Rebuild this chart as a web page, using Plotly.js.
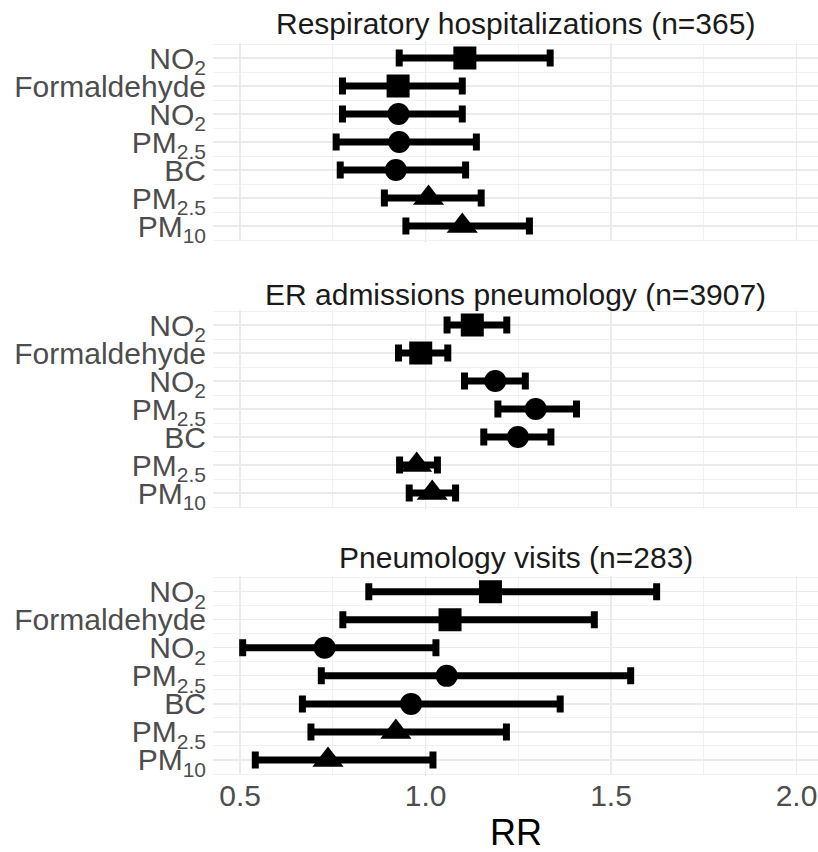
<!DOCTYPE html>
<html>
<head>
<meta charset="utf-8">
<script src="https://cdn.plot.ly/plotly-3.0.1.min.js"></script>
<style>html,body{margin:0;padding:0;background:#fff;}#chart{width:818px;height:852px;}</style>
</head>
<body>
<div id="chart"></div>
<script>
// ---- data ----
const rowLabels = ['NO<sub>2</sub>', 'Formaldehyde', 'NO<sub>2</sub>', 'PM<sub>2.5</sub>', 'BC', 'PM<sub>2.5</sub>', 'PM<sub>10</sub>'];
const rowPositions = [1, 2, 3, 4, 5, 6, 7];
const rowSymbols = ['square', 'square', 'circle', 'circle', 'circle', 'triangle-up', 'triangle-up'];
const panelTitles = ['Respiratory hospitalizations (n=365)', 'ER admissions pneumology (n=3907)', 'Pneumology visits (n=283)'];

const rrResp = [1.106, 0.926, 0.927, 0.929, 0.920, 1.008, 1.099];
const loResp = [0.929, 0.776, 0.776, 0.759, 0.770, 0.889, 0.947];
const hiResp = [1.336, 1.099, 1.099, 1.137, 1.108, 1.150, 1.280];

const rrER = [1.126, 0.987, 1.188, 1.297, 1.249, 0.976, 1.018];
const loER = [1.058, 0.927, 1.105, 1.195, 1.157, 0.930, 0.956];
const hiER = [1.219, 1.060, 1.269, 1.407, 1.338, 1.032, 1.081];

const rrVis = [1.175, 1.066, 0.728, 1.057, 0.961, 0.920, 0.737];
const loVis = [0.847, 0.777, 0.507, 0.719, 0.668, 0.691, 0.541];
const hiVis = [1.623, 1.455, 1.028, 1.553, 1.363, 1.218, 1.020];

const xTickVals = [0.5, 1.0, 1.5, 2.0];
const xTickText = ['0.5', '1.0', '1.5', '2.0'];
const xMinorVals = [0.75, 1.25, 1.75];
const yMinorVals = [0.5, 1.5, 2.5, 3.5, 4.5, 5.5, 6.5, 7.5];
const refLine = 1.0;

// ---- build ----
const FONT = '"Liberation Sans", Arial, sans-serif';
const panels = [
  {rr: rrResp, lo: loResp, hi: hiResp},
  {rr: rrER, lo: loER, hi: hiER},
  {rr: rrVis, lo: loVis, hi: hiVis}
];
const H = 852;
const domPx = [[42.6, 241.4], [309.6, 508.4], [576.3, 775.4]];
const titleYpx = [24, 294, 557];
const markerSizes = rowSymbols.map(s => s === 'square' ? 23 : (s === 'circle' ? 22 : 27));

const traces = [];
const layout = {
  width: 818, height: 852,
  margin: {l: 213, r: 0, t: 0, b: 0},
  paper_bgcolor: '#fff', plot_bgcolor: '#fff',
  showlegend: false,
  font: {family: FONT, color: '#4d4d4d', size: 30},
  shapes: [], annotations: []
};

panels.forEach((p, i) => {
  const sfx = i === 0 ? '' : String(i + 1);
  traces.push({
    type: 'scatter', mode: 'markers',
    x: p.rr, y: rowPositions,
    xaxis: 'x' + sfx, yaxis: 'y' + sfx,
    marker: {symbol: rowSymbols, size: markerSizes, color: '#000', opacity: 1, line: {width: 0}},
    error_x: {
      type: 'data', symmetric: false,
      array: p.hi.map((h, k) => h - p.rr[k]),
      arrayminus: p.lo.map((l, k) => p.rr[k] - l),
      thickness: 7, width: 8.5, color: '#000'
    },
    hoverinfo: 'skip'
  });
  const d = domPx[i];
  layout['xaxis' + sfx] = {
    domain: [0, 1], anchor: 'y' + sfx,
    range: [0.427, 2.058],
    tickmode: 'array', tickvals: xTickVals, ticktext: xTickText,
    showticklabels: i === 2, ticks: '',
    tickfont: {size: 30, color: '#4d4d4d', family: FONT},
    showgrid: true, gridcolor: '#ebebeb', gridwidth: 1.3,
    minor: {tickvals: xMinorVals, showgrid: true, gridcolor: '#ebebeb', gridwidth: 0.7},
    zeroline: false, showline: false
  };
  layout['yaxis' + sfx] = {
    domain: [1 - d[1] / H, 1 - d[0] / H], anchor: 'x' + sfx,
    range: [7.55, 0.45],
    tickmode: 'array', tickvals: rowPositions, ticktext: rowLabels,
    ticks: '', ticklabelstandoff: 6,
    tickfont: {size: 30, color: '#4d4d4d', family: FONT},
    showgrid: true, gridcolor: '#ebebeb', gridwidth: 1.3,
    minor: {tickvals: yMinorVals, showgrid: true, gridcolor: '#ebebeb', gridwidth: 0.7},
    zeroline: false, showline: false
  };
  layout.shapes.push({
    type: 'line', xref: 'x' + sfx, yref: 'y' + sfx + ' domain',
    x0: refLine, x1: refLine, y0: 0, y1: 1,
    line: {color: '#8c8c8c', width: 1, dash: '5px,4px'}, layer: 'below'
  });
  layout.annotations.push({
    text: panelTitles[i], xref: 'paper', yref: 'paper',
    x: 0.5, y: 1 - titleYpx[i] / H, xanchor: 'center', yanchor: 'middle',
    showarrow: false, font: {size: 30, color: '#1a1a1a', family: FONT}
  });
});

layout.annotations.push({
  text: 'RR', xref: 'paper', yref: 'paper',
  x: 0.5, y: 1 - 832 / H, xanchor: 'center', yanchor: 'middle',
  showarrow: false, font: {size: 36, color: '#000', family: FONT}
});

Plotly.newPlot('chart', traces, layout, {displayModeBar: false, staticPlot: true});
</script>
</body>
</html>
